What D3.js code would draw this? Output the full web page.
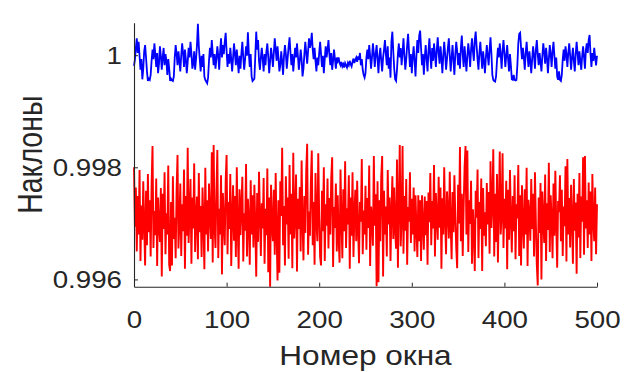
<!DOCTYPE html>
<html>
<head>
<meta charset="utf-8">
<script src="https://cdn.jsdelivr.net/npm/d3@7"></script>
<style>
  html, body { margin: 0; padding: 0; background: #fff; }
  svg { display: block; }
  text { font-family: "Liberation Sans", Arial, Helvetica, sans-serif; fill: #262626; }
</style>
</head>
<body>
<svg id="chart" width="638" height="372"></svg>
<script>
// Slope per window (window numbers 0..500), two estimators
const blueSlopes = [
  0.99981,0.99992,1.00013,1.00030,1.00004,1.00024,0.99999,0.99974,0.99993,0.99957,
  0.99976,1.00007,1.00018,0.99996,0.99971,0.99954,0.99958,0.99956,0.99965,0.99990,
  1.00010,0.99993,1.00021,1.00002,0.99979,1.00004,0.99968,0.99985,1.00016,0.99999,
  0.99974,0.99996,1.00013,0.99982,1.00002,0.99990,0.99965,0.99993,0.99976,0.99954,
  0.99958,0.99955,0.99954,0.99962,0.99996,1.00018,1.00002,0.99982,1.00007,0.99990,
  0.99971,0.99999,1.00021,1.00004,0.99979,1.00010,0.99993,0.99968,0.99988,1.00013,
  0.99996,1.00024,1.00004,0.99976,0.99985,1.00007,0.99974,0.99993,1.00018,1.00056,
  1.00016,0.99993,0.99971,0.99999,0.99979,1.00002,0.99962,0.99956,0.99953,0.99950,
  0.99960,0.99990,1.00013,0.99996,1.00027,1.00004,0.99982,1.00002,0.99976,0.99993,
  1.00016,0.99999,0.99974,1.00007,1.00030,0.99996,1.00018,1.00002,1.00024,1.00040,
  1.00007,0.99979,1.00002,0.99985,1.00013,0.99993,0.99971,0.99996,1.00021,1.00002,
  0.99982,1.00010,0.99990,0.99968,0.99999,0.99976,1.00004,1.00024,0.99996,0.99974,
  0.99993,1.00016,0.99999,1.00041,1.00004,0.99979,1.00002,0.99962,0.99954,0.99956,
  0.99958,0.99999,1.00042,1.00010,1.00027,0.99990,0.99974,0.99996,1.00013,0.99993,
  0.99971,1.00002,0.99982,1.00007,1.00021,0.99996,0.99968,0.99990,1.00013,0.99999,
  0.99979,1.00004,1.00030,1.00010,0.99990,1.00016,0.99996,0.99971,0.99982,1.00007,
  0.99988,0.99965,0.99999,1.00018,1.00002,0.99976,0.99996,1.00016,1.00032,1.00004,
  0.99982,1.00002,0.99971,0.99993,1.00013,0.99996,1.00021,0.99999,0.99974,0.99990,
  1.00010,0.99993,0.99962,0.99976,1.00002,1.00024,1.00004,0.99985,1.00007,1.00030,
  1.00013,1.00021,1.00040,1.00010,0.99993,1.00013,0.99990,0.99971,0.99996,0.99982,
  1.00004,1.00024,1.00002,0.99979,0.99999,0.99968,0.99993,1.00016,0.99996,1.00010,
  1.00027,1.00002,0.99982,1.00004,0.99974,0.99990,1.00010,0.99993,0.99976,0.99996,
  0.99990,0.99996,0.99986,0.99982,0.99988,0.99980,0.99984,0.99978,0.99986,0.99982,
  0.99978,0.99986,0.99982,0.99990,0.99984,0.99980,0.99988,0.99994,0.99986,0.99992,
  0.99996,0.99988,0.99998,0.99992,1.00004,0.99982,0.99993,0.99974,0.99965,0.99960,
  0.99968,0.99996,1.00010,0.99993,1.00018,0.99999,0.99976,0.99996,1.00021,1.00004,
  0.99979,1.00002,1.00018,0.99993,0.99968,0.99999,1.00013,0.99990,0.99971,0.99996,
  1.00010,1.00027,1.00002,0.99982,1.00016,0.99976,0.99996,0.99960,1.00024,1.00042,
  1.00007,0.99976,0.99957,0.99954,0.99974,1.00002,1.00021,0.99996,1.00013,0.99982,
  1.00004,1.00030,0.99999,0.99974,0.99993,1.00018,1.00038,1.00007,0.99979,1.00002,
  0.99968,0.99996,1.00016,0.99990,0.99962,0.99999,1.00027,1.00004,1.00035,1.00044,
  1.00013,0.99982,1.00002,0.99965,0.99996,1.00018,0.99993,0.99971,1.00007,1.00030,
  0.99999,0.99976,1.00013,0.99990,1.00021,1.00002,0.99979,1.00010,1.00032,1.00004,
  0.99985,1.00016,0.99996,0.99968,0.99999,1.00024,1.00002,0.99974,0.99993,1.00013,
  1.00030,0.99999,0.99971,0.99996,1.00018,0.99990,0.99965,1.00002,1.00024,1.00007,
  0.99982,1.00004,0.99976,1.00013,1.00035,1.00002,0.99979,1.00016,0.99993,0.99971,
  0.99999,1.00021,1.00004,0.99979,1.00010,1.00030,1.00007,0.99990,1.00027,1.00042,
  1.00016,0.99993,0.99974,1.00004,1.00024,0.99999,0.99976,1.00007,0.99990,0.99968,
  0.99996,1.00018,0.99999,0.99982,1.00010,1.00032,1.00002,0.99965,0.99956,0.99954,
  0.99953,0.99962,0.99990,1.00013,0.99996,1.00021,1.00002,0.99976,1.00007,1.00027,
  1.00004,0.99979,0.99999,1.00018,0.99993,0.99971,1.00002,0.99982,0.99957,0.99956,
  0.99965,0.99956,0.99955,0.99956,0.99982,1.00021,1.00038,1.00040,1.00013,0.99993,
  1.00013,0.99996,0.99974,1.00004,1.00024,0.99999,0.99979,1.00007,0.99990,0.99968,
  0.99993,1.00016,0.99999,0.99976,1.00010,1.00027,1.00002,0.99982,1.00004,0.99988,
  0.99971,0.99999,1.00021,1.00004,0.99985,1.00013,0.99996,0.99968,0.99993,1.00018,
  1.00002,0.99979,1.00007,1.00024,0.99999,0.99976,0.99996,0.99962,0.99956,0.99971,
  0.99956,0.99954,0.99965,0.99993,1.00010,0.99990,1.00016,1.00002,0.99979,1.00004,
  1.00021,0.99999,0.99974,0.99996,1.00013,0.99990,0.99971,1.00002,1.00024,1.00004,
  0.99982,1.00007,0.99990,0.99974,0.99999,1.00016,0.99996,0.99976,1.00010,1.00021,
  1.00004,1.00027,1.00036,1.00002,0.99979,1.00004,0.99990,1.00013,0.99996,0.99982,
  0.99999
];

const redSlopes = [
  0.99800,0.99694,0.99764,0.99650,0.99749,0.99680,0.99795,0.99633,0.99732,0.99671,
  0.99775,0.99696,0.99625,0.99758,0.99661,0.99788,0.99684,0.99741,0.99641,0.99769,
  0.99838,0.99656,0.99722,0.99679,0.99780,0.99624,0.99746,0.99696,0.99667,0.99763,
  0.99605,0.99753,0.99690,0.99791,0.99645,0.99718,0.99680,0.99803,0.99626,0.99615,
  0.99738,0.99625,0.99784,0.99672,0.99710,0.99638,0.99758,0.99822,0.99655,0.99698,
  0.99771,0.99642,0.99734,0.99686,0.99796,0.99619,0.99749,0.99678,0.99835,0.99665,
  0.99721,0.99779,0.99628,0.99746,0.99691,0.99807,0.99649,0.99710,0.99748,0.99636,
  0.99790,0.99684,0.99731,0.99640,0.99764,0.99702,0.99618,0.99799,0.99680,0.99741,
  0.99650,0.99771,0.99709,0.99672,0.99827,0.99630,0.99840,0.99694,0.99656,0.99756,
  0.99831,0.99638,0.99726,0.99680,0.99786,0.99609,0.99754,0.99700,0.99661,0.99776,
  0.99822,0.99645,0.99738,0.99690,0.99788,0.99624,0.99713,0.99768,0.99669,0.99749,
  0.99640,0.99800,0.99696,0.99619,0.99761,0.99679,0.99730,0.99783,0.99632,0.99718,
  0.99687,0.99806,0.99641,0.99744,0.99705,0.99626,0.99777,0.99680,0.99750,0.99657,
  0.99769,0.99695,0.99605,0.99754,0.99667,0.99792,0.99715,0.99642,0.99736,0.99691,
  0.99781,0.99628,0.99726,0.99679,0.99798,0.99613,0.99746,0.99587,0.99769,0.99699,
  0.99668,0.99760,0.99644,0.99790,0.99683,0.99598,0.99741,0.99612,0.99775,0.99713,
  0.99835,0.99661,0.99731,0.99625,0.99784,0.99698,0.99746,0.99637,0.99804,0.99680,
  0.99753,0.99620,0.99826,0.99673,0.99715,0.99787,0.99614,0.99744,0.99690,0.99765,
  0.99650,0.99812,0.99700,0.99634,0.99749,0.99683,0.99794,0.99842,0.99644,0.99721,
  0.99678,0.99773,0.99830,0.99661,0.99738,0.99626,0.99790,0.99705,0.99668,0.99825,
  0.99711,0.99640,0.99625,0.99758,0.99686,0.99800,0.99633,0.99734,0.99696,0.99780,
  0.99655,0.99745,0.99680,0.99781,0.99818,0.99622,0.99729,0.99692,0.99771,0.99650,
  0.99750,0.99671,0.99630,0.99796,0.99709,0.99638,0.99761,0.99686,0.99811,0.99656,
  0.99727,0.99698,0.99786,0.99619,0.99746,0.99678,0.99791,0.99640,0.99717,0.99760,
  0.99668,0.99776,0.99688,0.99629,0.99738,0.99703,0.99815,0.99645,0.99723,0.99680,
  0.99767,0.99653,0.99745,0.99692,0.99803,0.99624,0.99730,0.99705,0.99660,0.99820,
  0.99696,0.99752,0.99588,0.99775,0.99595,0.99741,0.99668,0.99783,0.99820,0.99605,
  0.99758,0.99680,0.99730,0.99641,0.99795,0.99698,0.99746,0.99633,0.99718,0.99784,
  0.99672,0.99764,0.99688,0.99655,0.99814,0.99621,0.99736,0.99840,0.99659,0.99706,
  0.99838,0.99646,0.99749,0.99687,0.99779,0.99626,0.99729,0.99703,0.99791,0.99665,
  0.99744,0.99680,0.99764,0.99650,0.99750,0.99691,0.99640,0.99750,0.99668,0.99741,
  0.99633,0.99750,0.99698,0.99653,0.99748,0.99679,0.99740,0.99626,0.99755,0.99702,
  0.99790,0.99661,0.99740,0.99691,0.99804,0.99641,0.99754,0.99710,0.99671,0.99783,
  0.99692,0.99764,0.99619,0.99745,0.99680,0.99800,0.99705,0.99645,0.99757,0.99721,
  0.99673,0.99792,0.99695,0.99636,0.99756,0.99684,0.99786,0.99711,0.99656,0.99620,
  0.99769,0.99700,0.99836,0.99668,0.99753,0.99642,0.99730,0.99800,0.99838,0.99680,
  0.99830,0.99649,0.99741,0.99699,0.99776,0.99628,0.99725,0.99686,0.99615,0.99758,
  0.99710,0.99796,0.99638,0.99738,0.99690,0.99780,0.99615,0.99763,0.99678,0.99720,
  0.99659,0.99772,0.99698,0.99756,0.99646,0.99811,0.99692,0.99734,0.99832,0.99641,
  0.99753,0.99667,0.99788,0.99630,0.99731,0.99828,0.99680,0.99715,0.99825,0.99656,
  0.99744,0.99691,0.99776,0.99618,0.99760,0.99671,0.99795,0.99706,0.99648,0.99749,
  0.99686,0.99786,0.99636,0.99734,0.99709,0.99804,0.99642,0.99750,0.99625,0.99768,
  0.99698,0.99655,0.99761,0.99680,0.99799,0.99624,0.99742,0.99715,0.99669,0.99779,
  0.99690,0.99753,0.99641,0.99791,0.99700,0.99626,0.99589,0.99746,0.99683,0.99772,
  0.99600,0.99757,0.99705,0.99665,0.99787,0.99633,0.99736,0.99688,0.99808,0.99649,
  0.99750,0.99707,0.99638,0.99771,0.99678,0.99794,0.99698,0.99621,0.99740,0.99720,
  0.99786,0.99668,0.99760,0.99642,0.99730,0.99695,0.99802,0.99632,0.99815,0.99680,
  0.99745,0.99657,0.99769,0.99705,0.99628,0.99779,0.99687,0.99737,0.99610,0.99753,
  0.99675,0.99790,0.99638,0.99748,0.99703,0.99818,0.99644,0.99820,0.99691,0.99741,
  0.99656,0.99773,0.99680,0.99757,0.99633,0.99788,0.99705,0.99668,0.99764,0.99645,
  0.99734
];

const xTicks = [0, 100, 200, 300, 400, 500];
const yTicks = [0.996, 0.998, 1];
const yTickLabels = ["0.996", "0.998", "1"];
const xTitle = "Номер окна";
const yTitle = "Наклоны";

const plot = { left: 134, right: 597, top: 22.7, bottom: 286.7 };
const stretch = 1.17;          // horizontal glyph stretch
const tickFont = 23.7, labelFont = 27;
const ink = "#262626";

const svg = d3.select("#chart");

const x = d3.scaleLinear().domain([0, 500]).range([plot.left, plot.right]);
const y = d3.scaleLinear().domain([0.99587, 1.00058]).range([plot.bottom, plot.top]);

// series
const line = d3.line().x((d, i) => x(i)).y(d => y(d));

svg.append("path")
  .datum(redSlopes)
  .attr("fill", "none")
  .attr("stroke", "#ff0000")
  .attr("stroke-width", 1.9)
  .attr("d", line);

svg.append("path")
  .datum(blueSlopes)
  .attr("fill", "none")
  .attr("stroke", "#0000ff")
  .attr("stroke-width", 1.8)
  .attr("d", line);

// axes: ticks point inward
const xAxis = d3.axisBottom(x).tickValues(xTicks).tickSizeInner(-4).tickSizeOuter(0).tickFormat(d3.format("d"));
const yAxis = d3.axisLeft(y).tickValues(yTicks).tickSizeInner(-4).tickSizeOuter(0)
  .tickFormat((d, i) => yTickLabels[i]);

const gx = svg.append("g").attr("transform", `translate(0,${plot.bottom})`).call(xAxis);
const gy = svg.append("g").attr("transform", `translate(${plot.left},0)`).call(yAxis);

[gx, gy].forEach(g => {
  g.select(".domain").attr("stroke", ink).attr("stroke-width", 1.1);
  g.selectAll(".tick line").attr("stroke", ink).attr("stroke-width", 1);
  g.selectAll(".tick text").attr("fill", ink).style("font-size", tickFont + "px");
});

gx.selectAll(".tick text")
  .attr("x", 0).attr("y", 0).attr("dy", null)
  .attr("text-anchor", "middle")
  .attr("transform", `translate(0,${41.3}) scale(${stretch},1)`);

gy.selectAll(".tick text")
  .attr("x", 0).attr("y", 0).attr("dy", "0.35em")
  .attr("text-anchor", "end")
  .attr("transform", `translate(-12,0) scale(${stretch},1)`);

// axis titles
svg.append("text")
  .attr("text-anchor", "middle")
  .style("font-size", labelFont + "px")
  .attr("transform", `translate(${(plot.left + plot.right) / 2},365) scale(${stretch},1)`)
  .text(xTitle);

svg.append("text")
  .attr("text-anchor", "middle")
  .style("font-size", "28.5px")
  .attr("transform", `translate(42,${(plot.top + plot.bottom) / 2}) scale(1.2,1) rotate(-90)`)
  .text(yTitle);
</script>
</body>
</html>
